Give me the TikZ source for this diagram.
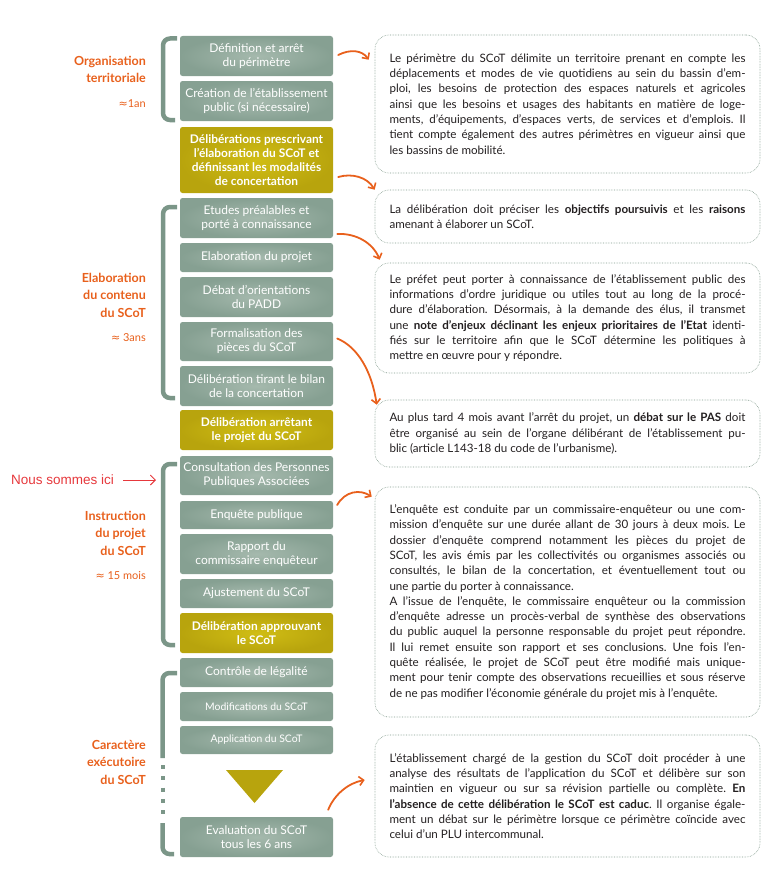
\documentclass[tikz,border=0pt]{standalone}
\usepackage{fontspec}
\setmainfont{Lato}
\newfontfamily\djv{DejaVu Sans}
\newfontfamily\arialf{Liberation Sans}
\usetikzlibrary{arrows.meta,calc}
\definecolor{gin}{HTML}{A5B9AD}
\definecolor{gout}{HTML}{86A092}
\definecolor{yin}{HTML}{D0BD14}
\definecolor{yout}{HTML}{B8A40D}
\definecolor{orangec}{HTML}{E8601C}
\definecolor{bracketc}{HTML}{7B9688}
\definecolor{dotc}{HTML}{7F988A}
\definecolor{redc}{HTML}{E6383C}
\definecolor{textc}{HTML}{231F20}
\newcommand\jl[1]{\hbox to\hsize{#1}}
\newcommand\jz[1]{\hbox{#1}}
\newcommand\apx{{\djv ≈}}
\frenchspacing
\tikzset{
  gbox/.style={rectangle, rounded corners=2.5pt, inner color=gin, outer color=gout,
    text=white, minimum width=153pt, inner sep=0pt, align=center,
    font=\fontsize{12}{13.8}\selectfont},
  ybox/.style={gbox, inner color=yin, outer color=yout, font=\bfseries\fontsize{11.9}{13.8}\selectfont},
  smallbox/.style={gbox, font=\fontsize{10.4}{12}\selectfont},
  rbox/.style={rectangle, rounded corners=14pt, draw=dotc, densely dotted, line width=0.6pt,
    minimum width=385pt, inner sep=0pt, text=textc, font=\fontsize{11.6}{15.3}\selectfont},
  olabel/.style={anchor=east, align=right, inner sep=0pt, text=orangec, font=\bfseries\fontsize{12.5}{17.5}\selectfont},
  odur/.style={anchor=east, inner sep=0pt, text=orangec, font=\fontsize{11}{13}\selectfont},
  oarrow/.style={draw=orangec, line width=1.8pt, line cap=round,
    -{Straight Barb[length=4.5pt,width=9pt,line width=1.6pt]}},
  brk/.style={draw=bracketc, line width=4.5pt, rounded corners=7pt}
}
\begin{document}
\begin{tikzpicture}[x=1pt,y=-1pt]
\useasboundingbox (0,0) rectangle (772,883);
% left boxes
\node[gbox, minimum height=40pt] (b1) at (256.5,56) {Définition et arrêt\\du périmètre};
\node[gbox, minimum height=40pt] (b2) at (256.5,101) {Création de l'établissement\\public (si nécessaire)};
\node[ybox, minimum height=66pt] (b3) at (256.5,160) {Délibérations prescrivant\\l'élaboration du SCoT et\\définissant les modalités\\de concertation};
\node[gbox, minimum height=40pt] (b4) at (256.5,218) {Etudes préalables et\\porté à connaissance};
\node[gbox, minimum height=29pt] (b5) at (256.5,257.5) {Elaboration du projet};
\node[gbox, minimum height=40pt] (b6) at (256.5,297) {Débat d'orientations\\du PADD};
\node[gbox, minimum height=39pt] (b7) at (256.5,341.5) {Formalisation des\\pièces du SCoT};
\node[gbox, minimum height=40pt] (b8) at (256.5,386) {Délibération tirant le bilan\\de la concertation};
\node[ybox, minimum height=40pt] (b9) at (256.5,430) {Délibération arrêtant\\le projet du SCoT};
\node[gbox, minimum height=39pt] (b10) at (256.5,475.5) {Consultation des Personnes\\Publiques Associées};
\node[gbox, minimum height=28pt] (b11) at (256.5,515) {Enquête publique};
\node[gbox, minimum height=40pt] (b12) at (256.5,554) {Rapport du\\commissaire enquêteur};
\node[gbox, minimum height=29pt] (b13) at (256.5,593.5) {Ajustement du SCoT};
\node[ybox, minimum height=40pt] (b14) at (256.5,633) {Délibération approuvant\\le SCoT};
\node[gbox, minimum height=29pt] (b15) at (256.5,672.5) {Contrôle de légalité};
\node[smallbox, minimum height=29pt] (b16) at (256.5,706.5) {Modifications du SCoT};
\node[smallbox, minimum height=28pt] (b17) at (256.5,740) {Application du SCoT};
\fill[yout] (226,770) -- (283,770) -- (254.5,803) -- cycle;
\node[gbox, minimum height=40pt] (b18) at (256.5,837) {Evaluation du SCoT\\tous les 6 ans};
% brackets
\draw[brk] (177,38.5) -- (163,38.5) -- (163,120) -- (175,120);
\draw[brk] (177,207) -- (163,207) -- (163,398) -- (175,398);
\draw[brk] (177,464) -- (163,464) -- (163,645) -- (175,645);
\draw[brk] (177,673) -- (162.5,673) -- (162.5,758);
\draw[draw=bracketc, line width=4pt, dash pattern=on 4pt off 7.3pt] (162.5,765) -- (162.5,818);
\draw[brk] (162.5,823) -- (162.5,854) -- (174,854);
% orange labels
\node[olabel] (l1) at (146,69.5) {Organisation\\territoriale};
\node[odur] (d1) at (146,104) {\apx1an};
\node[olabel] (l2) at (146,295) {Elaboration\\du contenu\\du SCoT};
\node[odur] (d2) at (146,338) {\apx\ 3ans};
\node[olabel] (l3) at (146,533) {Instruction\\du projet\\du SCoT};
\node[odur] (d3) at (146,576) {\apx\ 15 mois};
\node[olabel] (l4) at (146,762) {Caractère\\exécutoire\\du SCoT};
% nous sommes ici
\node[anchor=west, text=redc, font=\arialf\fontsize{13.5}{15}\selectfont, inner sep=0pt] (ici) at (11,480) {Nous sommes ici};
\coordinate (iciend) at (156,480);
\draw[draw=redc, line width=0.9pt, -{Straight Barb[length=5pt,width=10pt,line width=0.9pt]}] ($(ici.east)+(9,0)$) -- (iciend);
% right boxes
\node[rbox, minimum height=138pt] (rA) at (567.5,104) {\parbox{356pt}{%
\jl{Le périmètre du SCoT délimite un territoire prenant en compte les}
\jl{déplacements et modes de vie quotidiens au sein du bassin d'em-}
\jl{ploi, les besoins de protection des espaces naturels et agricoles}
\jl{ainsi que les besoins et usages des habitants en matière de loge-}
\jl{ments, d'équipements, d'espaces verts, de services et d'emplois. Il}
\jl{tient compte également des autres périmètres en vigueur ainsi que}
\jz{les bassins de mobilité.}}};
\node[rbox, minimum height=53pt] (rB) at (567.5,216.5) {\parbox{356pt}{%
\jl{La délibération doit préciser les \textbf{objectifs poursuivis} et les \textbf{raisons}}
\jz{amenant à élaborer un SCoT.}}};
\node[rbox, minimum height=110pt] (rC) at (567.5,318) {\parbox{356pt}{%
\jl{Le préfet peut porter à connaissance de l'établissement public des}
\jl{informations d'ordre juridique ou utiles tout au long de la procé-}
\jl{dure d'élaboration. Désormais, à la demande des élus, il transmet}
\jl{une \textbf{note d'enjeux déclinant les enjeux prioritaires de l'Etat} identi-}
\jl{fiés sur le territoire afin que le SCoT détermine les politiques à}
\jz{mettre en œuvre pour y répondre.}}};
\node[rbox, minimum height=67pt] (rD) at (567.5,433.5) {\parbox{356pt}{%
\jl{Au plus tard 4 mois avant l'arrêt du projet, un \textbf{débat sur le PAS} doit}
\jl{être organisé au sein de l'organe délibérant de l'établissement pu-}
\jz{blic (article L143-18 du code de l'urbanisme).}}};
\node[rbox, minimum height=230pt] (rE) at (567.5,602) {\parbox{356pt}{%
\jl{L'enquête est conduite par un commissaire-enquêteur ou une com-}
\jl{mission d'enquête sur une durée allant de 30 jours à deux mois. Le}
\jl{dossier d'enquête comprend notamment les pièces du projet de}
\jl{SCoT, les avis émis par les collectivités ou organismes associés ou}
\jl{consultés, le bilan de la concertation, et éventuellement tout ou}
\jz{une partie du porter à connaissance.}
\jl{A l'issue de l'enquête, le commissaire enquêteur ou la commission}
\jl{d'enquête adresse un procès-verbal de synthèse des observations}
\jl{du public auquel la personne responsable du projet peut répondre.}
\jl{Il lui remet ensuite son rapport et ses conclusions. Une fois l'en-}
\jl{quête réalisée, le projet de SCoT peut être modifié mais unique-}
\jl{ment pour tenir compte des observations recueillies et sous réserve}
\jz{de ne pas modifier l'économie générale du projet mis à l'enquête.}}};
\node[rbox, minimum height=122pt] (rF) at (567.5,796) {\parbox{356pt}{%
\jl{L'établissement chargé de la gestion du SCoT doit procéder à une}
\jl{analyse des résultats de l'application du SCoT et délibère sur son}
\jl{maintien en vigueur ou sur sa révision partielle ou complète. \textbf{En}}
\jl{\textbf{l'absence de cette délibération le SCoT est caduc}. Il organise égale-}
\jl{ment un débat sur le périmètre lorsque ce périmètre coïncide avec}
\jz{celui d'un PLU intercommunal.}}};
% orange arrows
\draw[oarrow] ($(b1.east)+(5,-1)$) .. controls (350,49) and (362,50) .. ($(rA.north west)+(-6,25)$);
\draw[oarrow] ($(b3.east)+(5,17)$) .. controls (352,173) and (367,177) .. ($(rB.north west)+(0,0)$);
\draw[oarrow] ($(b4.east)+(4,16)$) .. controls (356,233) and (373,243) .. ($(rC.north west)+(5,-3)$);
\draw[oarrow] ($(b7.east)+(4,-3)$) .. controls (358,347) and (372,372) .. ($(rD.north west)+(2,5)$);
\draw[oarrow] ($(b11.east)+(4,-10)$) .. controls (345,491) and (360,489) .. ($(rE.north west)+(-3,10)$);
\draw[oarrow] ($(b18.north east)+(-5,-7)$) .. controls (334,795) and (348,783) .. ($(rF.west)+(-10,-16)$);
\end{tikzpicture}
\end{document}
